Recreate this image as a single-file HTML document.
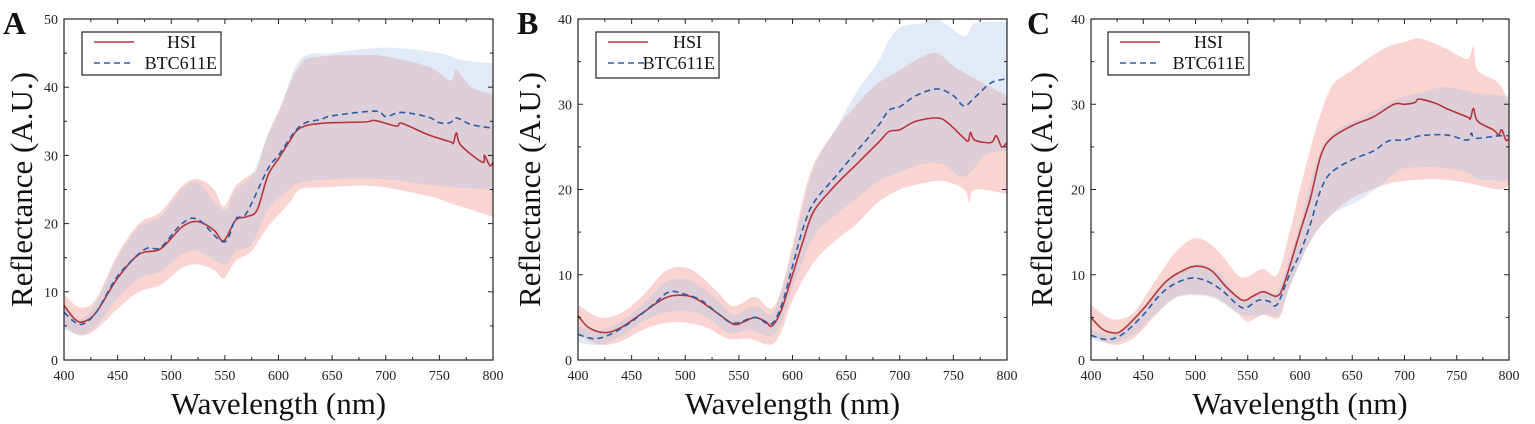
<!DOCTYPE html>
<html><head><meta charset="utf-8"><style>
body{margin:0;background:#fff;}
svg{display:block;font-family:"Liberation Serif",serif;}
</style></head><body>
<svg id="s" width="1535" height="424" xmlns="http://www.w3.org/2000/svg"></svg>
<script>
const P=[
{x0:64,x1:493,ymax:50,letter:"A",lx:3,tx:22,leg:[82,32,139,43],
hm:[[400,8],[410,6],[418,5.6],[430,7],[450,12],[470,15.5],[490,16.3],[510,19.5],[525,20.3],[540,19],[549,17.5],[560,20.5],[570,21],[580,22],[590,27],[600,29.5],[610,32],[620,34],[640,34.7],[680,34.9],[690,35.1],[710,34.3],[715,34.7],[740,33],[760,32],[763,31.8],[766,33.3],[770,31.5],[790,29],[792,30],[797,28.5],[800,29]],
hu:[[400,9.7],[415,7.7],[430,9],[450,15.5],[470,20],[490,21.7],[510,25.5],[525,26.5],[540,25],[549,22.5],[560,25.5],[575,27.3],[580,28],[590,33],[600,36.5],[620,43.3],[640,44.5],[680,44.7],[700,44.5],[740,43],[760,41],[766,42.5],[780,40],[800,39]],
hl:[[400,5],[415,3.6],[430,4.5],[450,7.5],[470,10],[490,11],[510,13.5],[525,14],[540,13.2],[549,12],[560,14.5],[575,16],[590,19.5],[610,23],[620,25],[640,25.3],[690,25.5],[740,24],[760,23],[780,22],[800,21]],
bm:[[400,7],[415,5.2],[430,7],[450,12.3],[475,16.2],[490,16.5],[510,20],[525,20.6],[549,17.3],[560,20.7],[570,21.5],[590,28],[600,30],[620,34.3],[640,35.3],[650,35.8],[690,36.5],[700,35.7],[715,36.3],[740,35.6],[750,34.8],[760,34.8],[766,35.5],[780,34.5],[800,34]],
bu:[[400,8],[415,6],[430,8.5],[450,15],[470,19.5],[490,21],[510,25],[525,26],[549,22],[560,25],[575,27],[590,33],[600,36],[620,44],[650,45],[700,45.8],[750,45],[770,44],[800,43.5]],
bl:[[400,4.5],[415,3.7],[430,5],[450,9],[470,12],[490,13],[510,15.5],[525,16],[549,14],[560,16],[575,17],[590,22],[610,25],[620,26],[650,26.5],[700,26.5],[750,25.5],[800,25]]},
{x0:578,x1:1007,ymax:40,letter:"B",lx:517,tx:530,leg:[596,32,123,46],
hm:[[400,5.2],[410,3.8],[425,3.2],[440,3.8],[460,5.5],[480,7.2],[495,7.6],[510,7.2],[530,5.5],[545,4.2],[555,4.5],[565,5],[575,4.5],[581,4],[590,6],[600,10],[610,14],[620,17.5],[640,20.5],[660,23],[680,25.5],[690,26.8],[700,27],[715,28],[735,28.4],[745,27.8],[760,26],[764,25.7],[766,26.7],[770,25.8],[785,25.5],[790,26.3],[795,25],[800,25.5]],
hu:[[400,6.5],[420,5],[440,5.5],[460,7.5],[480,10.3],[495,10.9],[510,10.3],[530,8],[545,6.3],[565,7.4],[580,6],[590,8.5],[600,13.5],[610,19],[620,23],[640,27],[660,30],[680,32.5],[700,34],[720,35.5],[735,36],[750,34.5],[770,33],[800,31]],
hl:[[400,3],[420,1.8],[440,2.2],[460,3.5],[480,4.3],[500,4.4],[520,3.8],[540,2.5],[560,2.5],[580,1.8],[590,3.5],[600,7],[620,11.5],[640,14],[660,16],[680,18.5],[700,20],[720,20.7],[740,21],[760,20],[765,18.5],[770,20],[800,19.5]],
bm:[[400,3],[415,2.5],[430,3],[450,4.5],[470,6.5],[485,8],[500,7.7],[515,7],[530,5.5],[545,4.3],[565,5],[580,4.2],[590,6.5],[600,11],[610,15.5],[620,18.5],[640,21.5],[660,24.5],[680,27.5],[690,29.3],[700,29.7],[715,31],[735,31.8],[750,31],[760,29.8],[770,30.8],[785,32.5],[800,33]],
bu:[[400,4],[420,3.5],[440,4.5],[460,6.5],[480,9],[495,9.5],[510,9],[530,7],[545,5.3],[565,6.3],[580,5.3],[590,8],[600,13],[620,22.5],[640,27],[660,31.5],[680,35],[690,37.5],[700,39],[720,39.5],[735,40],[760,38],[770,39.5],[800,39.7]],
bl:[[400,2],[420,1.8],[440,2.8],[460,4.5],[480,5.5],[500,5.8],[520,5],[540,3.2],[560,3.5],[580,2.8],[590,4.5],[600,8.5],[620,14.5],[640,17],[660,19],[680,21],[700,22],[720,23],[740,23],[760,21.5],[780,24],[800,24.5]]},
{x0:1091,x1:1509,ymax:40,letter:"C",lx:1027,tx:1042,leg:[1108,32,141,43],
hm:[[400,5],[410,3.7],[420,3.2],[430,3.5],[450,6],[470,9],[485,10.3],[500,11],[515,10.5],[530,8.5],[545,7],[555,7.5],[565,8],[578,7.5],[585,9],[600,15],[610,19],[620,24],[630,26],[650,27.5],[670,28.5],[690,30],[700,30],[710,30.2],[714,30.6],[730,30.1],[740,29.5],[760,28.5],[763,28.3],[766,29.5],[770,28],[785,27],[790,26.4],[793,27],[797,25.8],[800,26]],
hu:[[400,6.5],[420,4.8],[440,5.5],[460,9],[480,12.5],[500,14.3],[520,13],[540,10],[550,9.8],[565,10.7],[578,10],[590,15],[600,20],[615,27],[630,32],[650,34],[680,36.5],[700,37.3],[715,37.7],[740,36.5],[760,35.3],[766,36.8],[770,34],[790,32.5],[800,30]],
hl:[[400,3],[420,1.8],[440,2.5],[460,5],[480,7.3],[500,7.7],[520,7.3],[540,5.5],[550,4.5],[565,5.3],[580,5],[590,8.5],[610,14],[630,17],[650,19],[680,20.5],[700,21],[730,21.2],[760,20.8],[790,20],[800,20.5]],
bm:[[400,2.9],[415,2.4],[430,3],[450,5.3],[465,7.5],[478,8.8],[495,9.6],[510,9.3],[525,8.2],[540,6.5],[548,6.1],[560,7],[570,6.9],[578,6.5],[590,10],[600,12.5],[610,16],[620,20],[630,22],[650,23.5],[670,24.5],[685,25.7],[700,25.8],[715,26.3],[740,26.4],[760,25.8],[764,26.6],[768,26],[790,26.3],[800,26.3]],
bu:[[400,3.5],[420,3],[440,4.5],[460,7.5],[480,10],[500,11.2],[520,10.5],[540,7.5],[550,7.2],[565,8.2],[578,8],[590,12],[600,16],[615,23],[630,26.5],[660,28.5],[690,30.5],[720,31.5],[740,32],[770,31.3],[800,31]],
bl:[[400,2.4],[420,2],[440,3],[460,5.3],[480,7.2],[500,7.6],[520,7.1],[540,5.5],[555,5.2],[570,5.4],[580,5.3],[590,8.5],[610,14],[630,17],[660,19],[690,21.8],[700,22.5],[730,22.6],[760,22],[770,21.2],[800,21]]}
];
const Y0=360,Y1=19;let h='';
function cr(q){let d='';for(let i=0;i<q.length-1;i++){const p0=q[Math.max(0,i-1)],p1=q[i],p2=q[i+1],p3=q[Math.min(q.length-1,i+2)];
 const c1=[p1[0]+(p2[0]-p0[0])/6,p1[1]+(p2[1]-p0[1])/6],c2=[p2[0]-(p3[0]-p1[0])/6,p2[1]-(p3[1]-p1[1])/6];
 d+=`C${c1[0].toFixed(1)},${c1[1].toFixed(1)} ${c2[0].toFixed(1)},${c2[1].toFixed(1)} ${p2[0].toFixed(1)},${p2[1].toFixed(1)} `;}return d;}
for(const p of P){
 const X=w=>p.x0+(w-400)/400*(p.x1-p.x0), Y=v=>Y0-v/p.ymax*(Y0-Y1);
 const tp=a=>a.map(q=>[X(q[0]),Y(q[1])]);
 const path=a=>{const q=tp(a);return `M${q[0][0].toFixed(1)},${q[0][1].toFixed(1)} `+cr(q);};
 const band=(u,l,c)=>{const qu=tp(u),ql=tp(l.slice().reverse());return `<path d="M${qu[0][0]},${qu[0][1]} ${cr(qu)}L${ql[0][0]},${ql[0][1]} ${cr(ql)}Z" fill="${c}"/>`;};
 h+=band(p.hu,p.hl,'rgba(242,160,150,0.45)');
 h+=band(p.bu,p.bl,'rgba(170,195,230,0.35)');
 h+=`<path d="${path(p.hm)}" fill="none" stroke="#b8353a" stroke-width="1.6"/>`;
 h+=`<path d="${path(p.bm)}" fill="none" stroke="#2a5ea8" stroke-width="1.6" stroke-dasharray="6,4"/>`;
 h+=`<rect x="${p.x0}" y="${Y1}" width="${p.x1-p.x0}" height="${Y0-Y1}" fill="none" stroke="#222" stroke-width="1.2"/>`;
 for(let w=400;w<=800;w+=25){const x=X(w),L=w%50?3:5;
  h+=`<line x1="${x}" y1="${Y0}" x2="${x}" y2="${Y0-L}" stroke="#222"/><line x1="${x}" y1="${Y1}" x2="${x}" y2="${Y1+L}" stroke="#222"/>`;
  if(w%50==0)h+=`<text x="${x}" y="380" font-size="14" text-anchor="middle" fill="#222">${w}</text>`;}
 for(let v=0;v<=p.ymax;v+=5){const y=Y(v),L=v%10?3:5;
  h+=`<line x1="${p.x0}" y1="${y}" x2="${p.x0+L}" y2="${y}" stroke="#222"/><line x1="${p.x1}" y1="${y}" x2="${p.x1-L}" y2="${y}" stroke="#222"/>`;
  if(v%10==0)h+=`<text x="${p.x0-6}" y="${y+5}" font-size="14" text-anchor="end" fill="#222">${v}</text>`;}
 h+=`<text x="${(p.x0+p.x1)/2}" y="414" font-size="31" text-anchor="middle" fill="#111">Wavelength (nm)</text>`;
 h+=`<text transform="translate(${p.tx+10},${(Y0+Y1)/2}) rotate(-90)" font-size="31" text-anchor="middle" fill="#111">Reflectance (A.U.)</text>`;
 h+=`<text x="${p.lx}" y="34" font-size="32" font-weight="bold" fill="#111">${p.letter}</text>`;
 const [lx,ly,lw,lh]=p.leg;
 h+=`<rect x="${lx}" y="${ly}" width="${lw}" height="${lh}" fill="#fff" stroke="#222" stroke-width="1.2"/>`;
 h+=`<line x1="${lx+12}" y1="${ly+10}" x2="${lx+52}" y2="${ly+10}" stroke="#b8353a" stroke-width="1.6"/>`;
 h+=`<line x1="${lx+12}" y1="${ly+31}" x2="${lx+52}" y2="${ly+31}" stroke="#2a5ea8" stroke-width="1.6" stroke-dasharray="6,4"/>`;
 h+=`<text x="${lx+(lw+60)/2}" y="${ly+16}" font-size="18" text-anchor="middle" fill="#111">HSI</text>`;
 h+=`<text x="${lx+lw-4}" y="${ly+37}" font-size="18" text-anchor="end" fill="#111">BTC611E</text>`;
}
document.getElementById('s').innerHTML=h;
</script>
</body></html>
